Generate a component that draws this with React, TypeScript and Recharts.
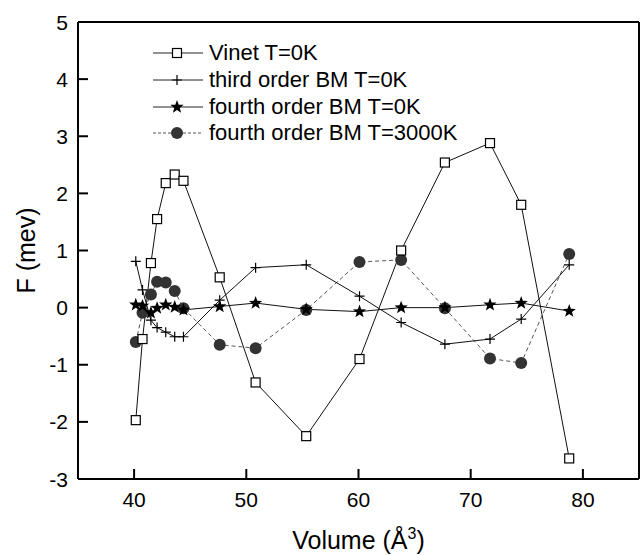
import React from 'react';
import { LineChart, Line, XAxis, YAxis, Legend } from 'recharts';

// volumes (Å^3) shared by all four curves
const volume = [40.15, 40.75, 41.5, 42.05, 42.82, 43.62, 44.4, 47.63, 50.83, 55.34, 60.09, 63.8, 67.7, 71.72, 74.5, 78.78];
const vinet = [-1.97, -0.55, 0.78, 1.55, 2.18, 2.33, 2.22, 0.53, -1.31, -2.25, -0.9, 1.0, 2.54, 2.88, 1.8, -2.64];
const bm3 = [0.81, 0.31, -0.22, -0.35, -0.43, -0.51, -0.51, 0.13, 0.7, 0.75, 0.2, -0.26, -0.64, -0.55, -0.2, 0.75];
const bm4 = [0.05, 0.03, -0.09, -0.01, 0.05, 0.01, -0.04, 0.02, 0.08, -0.03, -0.07, 0.0, 0.0, 0.05, 0.08, -0.06];
const bm4hot = [-0.6, -0.09, 0.23, 0.455, 0.44, 0.29, -0.01, -0.65, -0.71, -0.04, 0.8, 0.835, -0.01, -0.89, -0.97, 0.94];

const xMajor = [40, 50, 60, 70, 80];
const xMinor = [45, 55, 65, 75];
const yMajor = [-3, -2, -1, 0, 1, 2, 3, 4, 5];
const yMinor = [-2.5, -1.5, -0.5, 0.5, 1.5, 2.5, 3.5, 4.5];

const legendNames = ['Vinet T=0K', 'third order BM T=0K', 'fourth order BM T=0K', 'fourth order BM T=3000K'];

const rows = volume.map((v, i) => ({
  v,
  vinet: vinet[i],
  bm3: bm3[i],
  bm4: bm4[i],
  bm4hot: bm4hot[i],
}));

const FONT = '"Liberation Sans", Arial, Helvetica, sans-serif';
const AXIS = { stroke: '#000', strokeWidth: 2 };
const TICK = { stroke: '#000', strokeWidth: 2 };

function Square({ cx, cy }: any) {
  return <rect x={cx - 4.5} y={cy - 4.5} width={9} height={9} fill="#fff" stroke="#000" strokeWidth={1.2} />;
}

function Plus({ cx, cy }: any) {
  return <path d={`M${cx - 5},${cy}H${cx + 5}M${cx},${cy - 5}V${cy + 5}`} stroke="#000" strokeWidth={1.2} fill="none" />;
}

function Star({ cx, cy }: any) {
  const pts: string[] = [];
  for (let i = 0; i < 10; i++) {
    const a = (-90 + i * 36) * (Math.PI / 180);
    const r = i % 2 === 0 ? 7 : 2.9;
    pts.push(`${cx + r * Math.cos(a)},${cy + r * Math.sin(a)}`);
  }
  return <polygon points={pts.join(' ')} fill="#000" />;
}

function Ball({ cx, cy }: any) {
  return <circle cx={cx} cy={cy} r={6} fill="#333" />;
}

const markers = [Square, Plus, Star, Ball];

function BottomLabel({ x, y, payload }: any) {
  return (
    <text x={x} y={y + 8} textAnchor="middle" fontSize={21} fontFamily={FONT} fill="#000">
      {payload.value}
    </text>
  );
}

function LeftLabel({ x, y, payload }: any) {
  return (
    <text x={x} y={y + 7.5} textAnchor="end" fontSize={21} fontFamily={FONT} fill="#000">
      {payload.value}
    </text>
  );
}

function XTitle({ viewBox }: any) {
  const cx = viewBox.x + viewBox.width / 2;
  return (
    <text x={cx} y={549} textAnchor="middle" fontSize={25} fontFamily={FONT} fill="#000">
      Volume (Å
      <tspan dy={-10} fontSize={16}>3</tspan>
      <tspan dy={10}>)</tspan>
    </text>
  );
}

function YTitle({ viewBox }: any) {
  const cy = viewBox.y + viewBox.height / 2;
  return (
    <text
      x={26}
      y={cy}
      transform={`rotate(-90, 26, ${cy})`}
      textAnchor="middle"
      dominantBaseline="central"
      fontSize={25}
      fontFamily={FONT}
      fill="#000"
    >
      F (mev)
    </text>
  );
}

function LegendBox() {
  return (
    <div style={{ fontFamily: FONT, fontSize: 22, color: '#000' }}>
      {legendNames.map((name, i) => {
        const M = markers[i];
        const dashed = i === 3;
        return (
          <div key={name} style={{ display: 'flex', alignItems: 'center', height: 26.7, whiteSpace: 'nowrap' }}>
            <svg width={50} height={26} style={{ display: 'block' }}>
              <line
                x1={0}
                x2={50}
                y1={13}
                y2={13}
                stroke={dashed ? '#555' : '#222'}
                strokeWidth={1}
                strokeDasharray={dashed ? '3 2' : undefined}
              />
              <M cx={24} cy={13} />
            </svg>
            <span style={{ marginLeft: 6, lineHeight: '26px' }}>{name}</span>
          </div>
        );
      })}
    </div>
  );
}

// data curves, axis titles and legend
function Curves() {
  return (
    <LineChart width={640} height={555} data={rows} margin={{ top: 22, right: 1, bottom: 0, left: 0 }}>
      <XAxis
        xAxisId="b"
        dataKey="v"
        type="number"
        domain={[35, 85]}
        allowDataOverflow
        ticks={xMajor}
        height={76}
        tick={false}
        tickLine={false}
        axisLine={false}
        label={{ content: (p: any) => <XTitle {...p} /> }}
      />
      <YAxis
        yAxisId="l"
        type="number"
        domain={[-3, 5]}
        allowDataOverflow
        ticks={yMajor}
        width={78}
        tick={false}
        tickLine={false}
        axisLine={false}
        label={{ content: (p: any) => <YTitle {...p} /> }}
      />
      <Legend
        layout="vertical"
        align="center"
        verticalAlign="middle"
        content={() => <LegendBox />}
        wrapperStyle={{ left: 153, top: 40, width: 320, height: 110 }}
      />
      <Line
        xAxisId="b"
        yAxisId="l"
        dataKey="bm4hot"
        type="linear"
        stroke="#555"
        strokeWidth={1}
        strokeDasharray="4 3"
        dot={(p: any) => <Ball key={p.index} cx={p.cx} cy={p.cy} />}
        activeDot={false}
        isAnimationActive={false}
      />
      <Line
        xAxisId="b"
        yAxisId="l"
        dataKey="vinet"
        type="linear"
        stroke="#111"
        strokeWidth={1}
        dot={(p: any) => <Square key={p.index} cx={p.cx} cy={p.cy} />}
        activeDot={false}
        isAnimationActive={false}
      />
      <Line
        xAxisId="b"
        yAxisId="l"
        dataKey="bm3"
        type="linear"
        stroke="#111"
        strokeWidth={1}
        dot={(p: any) => <Plus key={p.index} cx={p.cx} cy={p.cy} />}
        activeDot={false}
        isAnimationActive={false}
      />
      <Line
        xAxisId="b"
        yAxisId="l"
        dataKey="bm4"
        type="linear"
        stroke="#111"
        strokeWidth={1}
        dot={(p: any) => <Star key={p.index} cx={p.cx} cy={p.cy} />}
        activeDot={false}
        isAnimationActive={false}
      />
    </LineChart>
  );
}

// box frame: one layer for the long ticks and labels, one for the short ticks.
// negative tickSize makes the tick lines point into the plot.
function Frame({ major }: { major: boolean }) {
  const xt = major ? xMajor : xMinor;
  const yt = major ? yMajor : yMinor;
  const size = major ? -10 : -5;
  const line = major ? AXIS : false;
  return (
    <LineChart width={640} height={555} data={rows} margin={{ top: 21, right: 0, bottom: 0, left: 0 }}>
      <XAxis
        xAxisId="b"
        dataKey="v"
        type="number"
        domain={[35, 85]}
        allowDataOverflow
        ticks={xt}
        interval={0}
        height={76}
        tickSize={size}
        tickMargin={30}
        tickLine={TICK}
        tick={major ? BottomLabel : false}
        axisLine={line}
      />
      <XAxis
        xAxisId="t"
        orientation="top"
        dataKey="v"
        type="number"
        domain={[35, 85]}
        allowDataOverflow
        ticks={xt}
        interval={0}
        height={1}
        tickSize={size}
        tickLine={TICK}
        tick={false}
        axisLine={line}
      />
      <YAxis
        yAxisId="l"
        type="number"
        domain={[-3, 5]}
        allowDataOverflow
        ticks={yt}
        interval={0}
        width={78}
        tickSize={size}
        tickMargin={20}
        tickLine={TICK}
        tick={major ? LeftLabel : false}
        axisLine={line}
      />
      <YAxis
        yAxisId="r"
        orientation="right"
        type="number"
        domain={[-3, 5]}
        allowDataOverflow
        ticks={yt}
        interval={0}
        width={1}
        tickSize={size}
        tickLine={TICK}
        tick={false}
        axisLine={line}
      />
      <Line xAxisId="b" yAxisId="l" dataKey="bm4" stroke="none" dot={false} activeDot={false} isAnimationActive={false} />
      <Line xAxisId="t" yAxisId="r" dataKey="bm4" stroke="none" dot={false} activeDot={false} isAnimationActive={false} />
    </LineChart>
  );
}

export default function App() {
  return (
    <div style={{ position: 'absolute', left: 0, top: 0, width: 640, height: 555, background: '#fff' }}>
      <div style={{ position: 'absolute', left: 0, top: 0 }}>
        <Curves />
      </div>
      <div style={{ position: 'absolute', left: 0, top: 0, pointerEvents: 'none' }}>
        <Frame major />
      </div>
      <div style={{ position: 'absolute', left: 0, top: 0, pointerEvents: 'none' }}>
        <Frame major={false} />
      </div>
    </div>
  );
}
